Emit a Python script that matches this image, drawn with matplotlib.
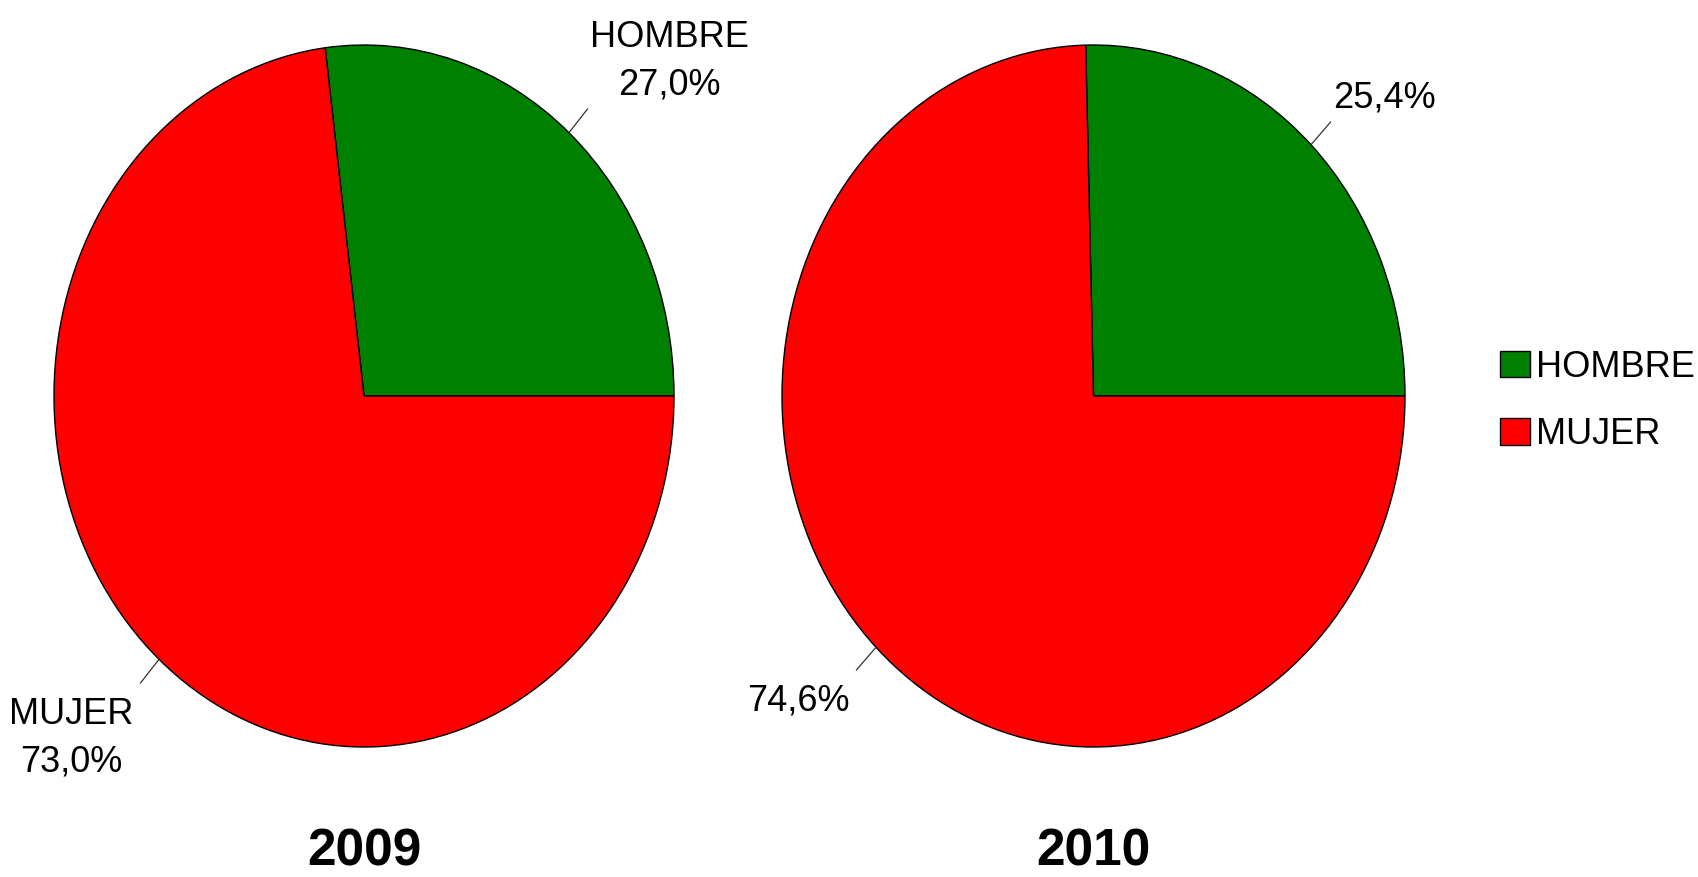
import matplotlib.pyplot as plt
import numpy as np
from matplotlib.patches import Patch

plt.rcParams['font.family'] = ['Liberation Sans', 'DejaVu Sans']

years = ['2009', '2010']
categories = ['HOMBRE', 'MUJER']
colors = ['#008000', '#FF0000']
hombre = [27.0, 25.4]
mujer = [73.0, 74.6]
show_names = [True, False]

W, H = 1698, 877
fig = plt.figure(figsize=(W / 100, H / 100), dpi=100)

# pie boxes in pixels (left, top, right, bottom)
boxes = [(54, 45, 674, 747), (782, 45, 1405, 747)]


def fmt(v):
    return f'{v:.1f}%'.replace('.', ',')


for i, year in enumerate(years):
    l, t, r, b = boxes[i]
    ax = fig.add_axes([l / W, (H - b) / H, (r - l) / W, (b - t) / H])
    vals = [hombre[i], mujer[i]]
    ax.pie(vals, colors=colors, startangle=0, counterclock=True,
           wedgeprops=dict(edgecolor='black', linewidth=1))
    ax.set_aspect('auto')
    ax.set_xlim(-1, 1)
    ax.set_ylim(-1, 1)
    ax.axis('off')

    start = 0.0
    for name, v in zip(categories, vals):
        mid = np.deg2rad(start + v / 100 * 360 / 2)
        start += v / 100 * 360
        c, s = np.cos(mid), np.sin(mid)
        ax.plot([c, 1.09 * c], [s, 1.09 * s], color='#333333', lw=0.9,
                clip_on=False)
        txt = f'{name}\n{fmt(v)}' if show_names[i] else fmt(v)
        if c >= 0:
            ax.annotate(txt, (1.09 * c, 1.09 * s), xytext=(1.5, 5),
                        textcoords='offset points', ha='left', va='bottom',
                        multialignment='center', linespacing=1.45,
                        fontsize=26, annotation_clip=False)
        else:
            ax.annotate(txt, (1.09 * c, 1.09 * s), xytext=(-5, -10),
                        textcoords='offset points', ha='right', va='top',
                        multialignment='center', linespacing=1.45,
                        fontsize=26, annotation_clip=False)

    fig.text((l + r) / 2 / W, 1 / H, year, ha='center', va='bottom',
             fontsize=37, fontweight='bold')

handles = [Patch(facecolor=c, edgecolor='black', linewidth=1) for c in colors]
fig.legend(handles, categories, loc='center left',
           bbox_to_anchor=(1500 / W, (H - 401) / H), frameon=False,
           fontsize=26, handlelength=0.83, handleheight=0.75,
           handletextpad=0.17, labelspacing=0.9, borderpad=0,
           borderaxespad=0)

fig.savefig('out.png', dpi=100)
